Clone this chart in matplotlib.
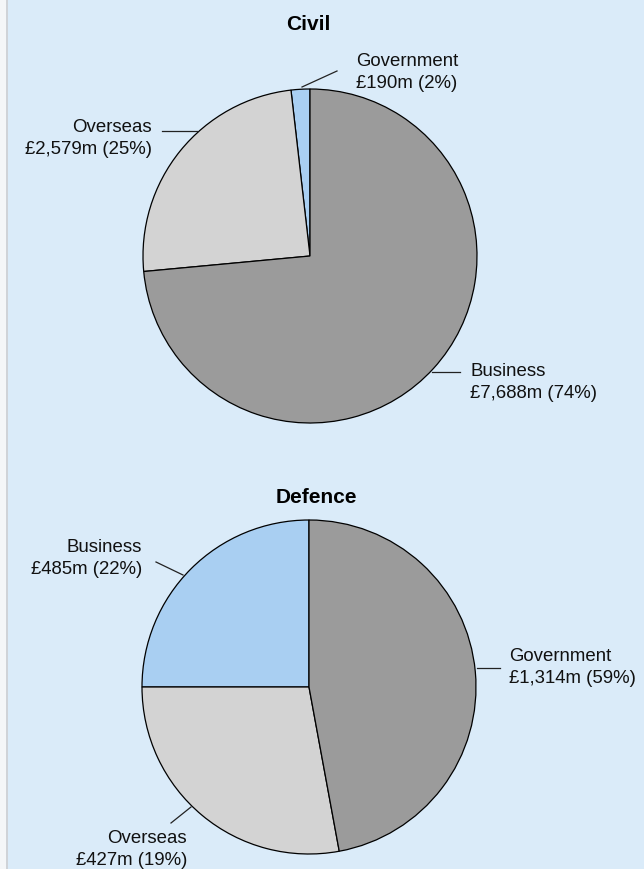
import matplotlib
matplotlib.use("Agg")
import matplotlib.pyplot as plt
from matplotlib.patches import Rectangle
from matplotlib.lines import Line2D

# ---------------- data ----------------
civil_categories = ["Government", "Overseas", "Business"]
civil_values_m = [190, 2579, 7688]
civil_pct = [2, 25, 74]

defence_categories = ["Business", "Overseas", "Government"]
defence_values_m = [485, 427, 1314]
defence_pct = [22, 19, 59]
# slice sizes as drawn in the reference picture (share of the circle, %)
defence_drawn_share = [25.0, 27.9, 47.1]

# colours follow slice order (1st slice blue, 2nd light grey, 3rd dark grey)
slice_colors = ["#a9cff2", "#d3d3d3", "#9b9b9b"]

# ---------------- figure ----------------
W, H = 644, 870
BG = "#daebf9"
plt.rcParams["font.family"] = ["Liberation Sans", "DejaVu Sans"]
fig = plt.figure(figsize=(W / 100, H / 100), dpi=100)
fig.patch.set_facecolor(BG)
ax = fig.add_axes([0, 0, 1, 1])
ax.set_facecolor(BG)

def Y(py):
    return H - py

LABEL_FS = 13.4
TITLE_FS = 15.0
LINE_GAP = 22

# left border strip
ax.add_patch(Rectangle((0, 0), 6, H, facecolor="#f4f6f8", edgecolor="none", zorder=0))
ax.add_patch(Rectangle((6, 0), 1.6, H, facecolor="#cfd3d8", edgecolor="none", zorder=0))

wedge_kw = dict(edgecolor="black", linewidth=0.9, antialiased=True)

# Civil pie
ax.pie(civil_values_m, colors=slice_colors, startangle=90, counterclock=True,
       center=(310, Y(257)), radius=167, wedgeprops=wedge_kw, frame=True)
# Defence pie
ax.pie(defence_drawn_share, colors=slice_colors, startangle=90, counterclock=True,
       center=(309, Y(688)), radius=167, wedgeprops=wedge_kw, frame=True)

ax.set_xlim(0, W)
ax.set_ylim(0, H)
ax.set_aspect("equal")
ax.set_axis_off()

def fmt(v, p):
    return f"£{v:,}m ({p}%)"

def label(x, y1, name, v, p, ha):
    ax.text(x, Y(y1), name, ha=ha, va="center", fontsize=LABEL_FS, color="#111111")
    ax.text(x, Y(y1 + LINE_GAP), fmt(v, p), ha=ha, va="center", fontsize=LABEL_FS, color="#111111")

def leader(x0, y0, x1, y1):
    ax.add_line(Line2D([x0, x1], [Y(y0), Y(y1)], color="#222222", linewidth=0.9))

# titles
ax.text(308, Y(25), "Civil", ha="center", va="center", fontsize=TITLE_FS, fontweight="bold")
ax.text(316.5, Y(498), "Defence", ha="center", va="center", fontsize=TITLE_FS, fontweight="bold")

# Civil labels
i = civil_categories.index("Government")
label(356, 62, civil_categories[i], civil_values_m[i], civil_pct[i], "left")
leader(302, 88, 337, 72)
i = civil_categories.index("Overseas")
label(152, 127, civil_categories[i], civil_values_m[i], civil_pct[i], "right")
leader(162, 132, 197, 132)
i = civil_categories.index("Business")
label(470, 372, civil_categories[i], civil_values_m[i], civil_pct[i], "left")
leader(432, 373, 460, 373)

# Defence labels
i = defence_categories.index("Business")
label(142, 547, defence_categories[i], defence_values_m[i], defence_pct[i], "right")
leader(156, 563, 183, 576)
i = defence_categories.index("Government")
label(509, 657, defence_categories[i], defence_values_m[i], defence_pct[i], "left")
leader(477, 669, 500, 669)
i = defence_categories.index("Overseas")
label(187, 839, defence_categories[i], defence_values_m[i], defence_pct[i], "right")
leader(171, 824, 191, 808)

fig.savefig("out.png", dpi=100, facecolor=BG)
